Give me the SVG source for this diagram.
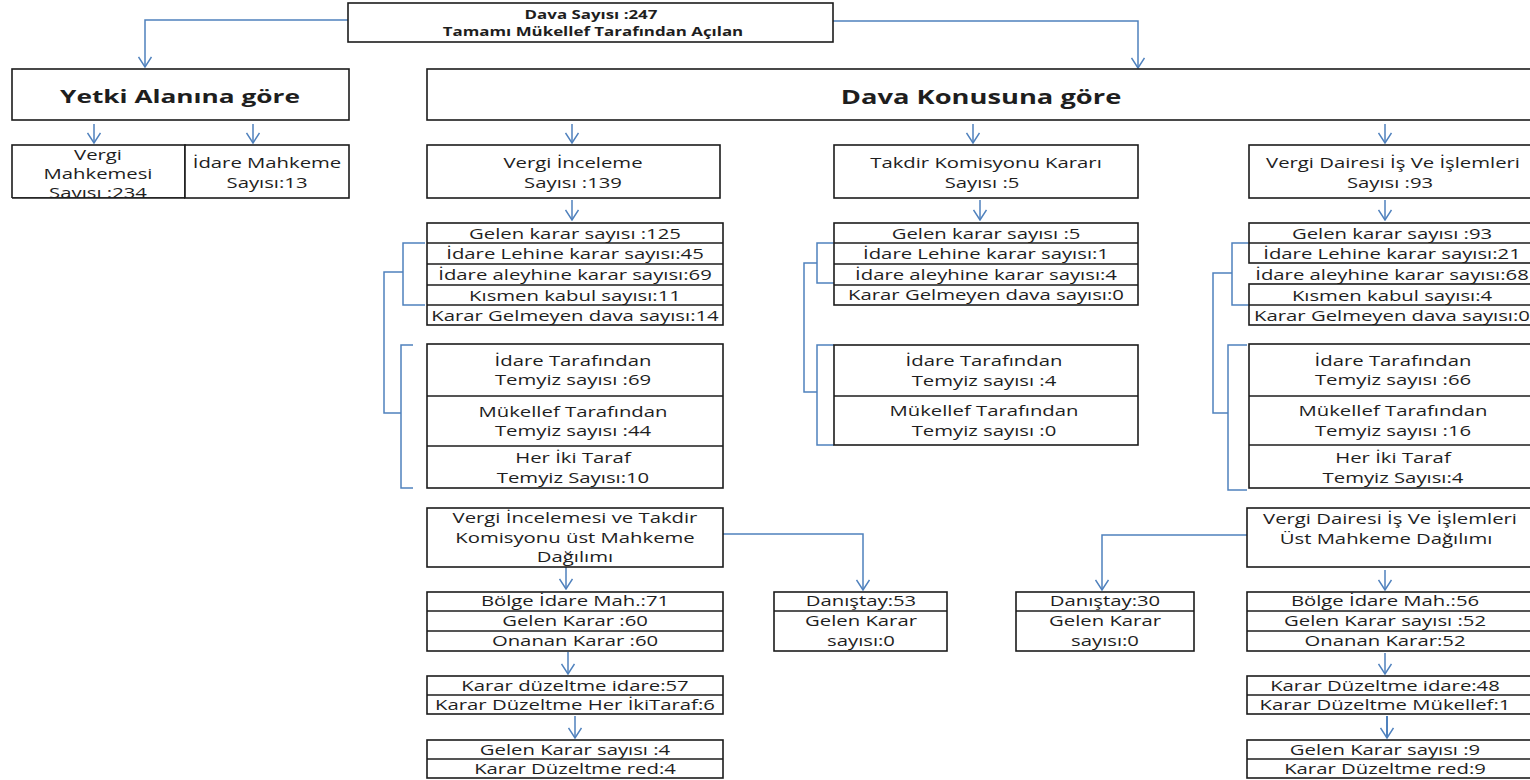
<svg xmlns="http://www.w3.org/2000/svg" width="1530" height="780" viewBox="0 0 1530 780">
<defs>
<marker id="arr" viewBox="0 0 12 14" refX="11" refY="7" markerWidth="12" markerHeight="14" markerUnits="userSpaceOnUse" orient="auto">
<path d="M1,0.5 L11,7 L1,13.5" fill="none" stroke="#4f81bd" stroke-width="1.5"/>
</marker>
</defs>
<style>
.b{fill:#fff;stroke:#1c1c1c;stroke-width:1.6}
.d{stroke:#1c1c1c;stroke-width:1.6;fill:none}
.c{fill:none;stroke:#4f81bd;stroke-width:1.5}
.a{fill:none;stroke:#4f81bd;stroke-width:1.5;marker-end:url(#arr)}
text{font-family:"Open Sans","Noto Sans","DejaVu Sans",sans-serif;fill:#1e1e1e;text-anchor:middle}
.t{font-size:14.5px}
.h1{font-size:17.5px;font-weight:bold}
.h2{font-size:19.5px;font-weight:bold}
.top{font-size:11.5px;font-weight:bold}
</style>
<rect width="1530" height="780" fill="#fff"/>

<g id="connectors">
<path class="a" d="M348,20 H145 V67"/>
<path class="a" d="M833,21 H1138 V68"/>
<path class="a" d="M94,124 V143"/>
<path class="a" d="M253,124 V143"/>
<path class="a" d="M572,124 V143"/>
<path class="a" d="M973,124 V143"/>
<path class="a" d="M1385,124 V143"/>
<path class="a" d="M572,200 V220"/>
<path class="a" d="M980,200 V220"/>
<path class="a" d="M1385,200 V220"/>
<path class="c" d="M425,243 H403 V305 H425"/>
<path class="c" d="M403,272 H384 V413 H401"/>
<path class="c" d="M413,345 H401 V488 H413"/>
<path class="c" d="M834,243 H817 V283 H834"/>
<path class="c" d="M817,263 H804 V392 H817"/>
<path class="c" d="M834,345 H817 V445 H834"/>
<path class="c" d="M1249,243 H1232 V305 H1249"/>
<path class="c" d="M1232,273 H1213 V413 H1228"/>
<path class="c" d="M1247,345 H1228 V490 H1247"/>
<path class="a" d="M566,567 V589"/>
<path class="a" d="M568,652 V674"/>
<path class="a" d="M575,716 V738"/>
<path class="a" d="M723,534 H863 V590"/>
<path class="a" d="M1247,535 H1102 V590"/>
<path class="a" d="M1385,570 V590"/>
<path class="a" d="M1385,653 V674"/>
<path class="a" d="M1387,716 V738" style="stroke-width:2"/>
</g>

<g id="n-top">
<rect class="b" x="348" y="3" width="485" height="39"/>
<text class="top" transform="translate(591,19) scale(1.47,1)">Dava Sayısı :247</text>
<text class="top" transform="translate(593,36) scale(1.47,1)">Tamamı Mükellef Tarafından Açılan</text>
</g>

<g id="n-yetki">
<rect class="b" x="12" y="69" width="337" height="51"/>
<text class="h1" transform="translate(180,103) scale(1.5,1)">Yetki Alanına göre</text>
</g>

<g id="n-konu">
<rect class="b" x="427" y="69" width="1110" height="51"/>
<text class="h2" transform="translate(981,104) scale(1.4,1)">Dava Konusuna göre</text>
</g>

<g id="n-vergimah">
<rect class="b" x="12" y="145" width="173" height="53"/>
<text class="t" transform="translate(98,160) scale(1.4,1)">Vergi</text>
<text class="t" transform="translate(98,179) scale(1.4,1)">Mahkemesi</text>
<text class="t" transform="translate(98,198) scale(1.4,1)">Sayısı :234</text>
<rect x="10" y="198" width="180" height="8" fill="#fff"/>
<line class="d" x1="12" y1="198" x2="185" y2="198"/>
</g>

<g id="n-idaremah">
<rect class="b" x="185" y="145" width="164" height="53"/>
<text class="t" transform="translate(267,168) scale(1.4,1)">İdare Mahkeme</text>
<text class="t" transform="translate(267,188) scale(1.4,1)">Sayısı:13</text>
</g>

<g id="n-inceleme">
<rect class="b" x="427" y="145" width="293" height="53"/>
<text class="t" transform="translate(573,168) scale(1.4,1)">Vergi İnceleme</text>
<text class="t" transform="translate(573,188) scale(1.4,1)">Sayısı :139</text>
</g>

<g id="n-takdir">
<rect class="b" x="834" y="145" width="304" height="53"/>
<text class="t" transform="translate(986,168) scale(1.4,1)">Takdir Komisyonu Kararı</text>
<text class="t" transform="translate(982,188) scale(1.4,1)">Sayısı :5</text>
</g>

<g id="n-daire">
<rect class="b" x="1249" y="145" width="290" height="53"/>
<text class="t" transform="translate(1393,168) scale(1.4,1)">Vergi Dairesi İş Ve İşlemleri</text>
<text class="t" transform="translate(1390,188) scale(1.4,1)">Sayısı :93</text>
</g>

<g id="n-inceleme-karar">
<rect class="b" x="427" y="223" width="296" height="102"/>
<line class="d" x1="427" y1="243" x2="723" y2="243"/>
<line class="d" x1="427" y1="264" x2="723" y2="264"/>
<line class="d" x1="427" y1="285" x2="723" y2="285"/>
<line class="d" x1="427" y1="305" x2="723" y2="305"/>
<text class="t" transform="translate(575,239) scale(1.4,1)">Gelen karar sayısı :125</text>
<text class="t" transform="translate(575,259) scale(1.4,1)">İdare Lehine karar sayısı:45</text>
<text class="t" transform="translate(575,280) scale(1.4,1)">İdare aleyhine karar sayısı:69</text>
<text class="t" transform="translate(575,301) scale(1.4,1)">Kısmen kabul sayısı:11</text>
<text class="t" transform="translate(575,321) scale(1.4,1)">Karar Gelmeyen dava sayısı:14</text>
</g>

<g id="n-inceleme-temyiz">
<rect class="b" x="427" y="344" width="296" height="144"/>
<line class="d" x1="427" y1="396" x2="723" y2="396"/>
<line class="d" x1="427" y1="446" x2="723" y2="446"/>
<text class="t" transform="translate(573,366) scale(1.4,1)">İdare Tarafından</text>
<text class="t" transform="translate(573,385) scale(1.4,1)">Temyiz sayısı :69</text>
<text class="t" transform="translate(573,417) scale(1.4,1)">Mükellef Tarafından</text>
<text class="t" transform="translate(573,436) scale(1.4,1)">Temyiz sayısı :44</text>
<text class="t" transform="translate(573,463) scale(1.4,1)">Her İki Taraf</text>
<text class="t" transform="translate(573,483) scale(1.4,1)">Temyiz Sayısı:10</text>
</g>

<g id="n-takdir-karar">
<rect class="b" x="834" y="223" width="304" height="82"/>
<line class="d" x1="834" y1="243" x2="1138" y2="243"/>
<line class="d" x1="834" y1="264" x2="1138" y2="264"/>
<line class="d" x1="834" y1="285" x2="1138" y2="285"/>
<text class="t" transform="translate(986,239) scale(1.4,1)">Gelen karar sayısı :5</text>
<text class="t" transform="translate(986,259) scale(1.4,1)">İdare Lehine karar sayısı:1</text>
<text class="t" transform="translate(986,280) scale(1.4,1)">İdare aleyhine karar sayısı:4</text>
<text class="t" transform="translate(986,300) scale(1.4,1)">Karar Gelmeyen dava sayısı:0</text>
</g>

<g id="n-takdir-temyiz">
<rect class="b" x="834" y="345" width="304" height="100"/>
<line class="d" x1="834" y1="396" x2="1138" y2="396"/>
<text class="t" transform="translate(984,366) scale(1.4,1)">İdare Tarafından</text>
<text class="t" transform="translate(984,386) scale(1.4,1)">Temyiz sayısı :4</text>
<text class="t" transform="translate(984,416) scale(1.4,1)">Mükellef Tarafından</text>
<text class="t" transform="translate(984,436) scale(1.4,1)">Temyiz sayısı :0</text>
</g>

<g id="n-daire-karar">
<rect class="b" x="1249" y="223" width="290" height="40"/>
<line class="d" x1="1249" y1="243" x2="1539" y2="243"/>
<rect class="b" x="1249" y="284" width="290" height="41"/>
<line class="d" x1="1249" y1="305" x2="1539" y2="305"/>
<text class="t" transform="translate(1392,239) scale(1.4,1)">Gelen karar sayısı :93</text>
<text class="t" transform="translate(1392,259) scale(1.4,1)">İdare Lehine karar sayısı:21</text>
<text class="t" transform="translate(1392,280) scale(1.4,1)">İdare aleyhine karar sayısı:68</text>
<text class="t" transform="translate(1392,301) scale(1.4,1)">Kısmen kabul sayısı:4</text>
<text class="t" transform="translate(1392,321) scale(1.4,1)">Karar Gelmeyen dava sayısı:0</text>
</g>

<g id="n-daire-temyiz">
<rect class="b" x="1249" y="344" width="290" height="144"/>
<line class="d" x1="1249" y1="396" x2="1539" y2="396"/>
<line class="d" x1="1249" y1="445" x2="1539" y2="445"/>
<text class="t" transform="translate(1393,366) scale(1.4,1)">İdare Tarafından</text>
<text class="t" transform="translate(1393,385) scale(1.4,1)">Temyiz sayısı :66</text>
<text class="t" transform="translate(1393,416) scale(1.4,1)">Mükellef Tarafından</text>
<text class="t" transform="translate(1393,436) scale(1.4,1)">Temyiz sayısı :16</text>
<text class="t" transform="translate(1393,463) scale(1.4,1)">Her İki Taraf</text>
<text class="t" transform="translate(1393,483) scale(1.4,1)">Temyiz Sayısı:4</text>
</g>

<g id="n-ust1">
<rect class="b" x="427" y="508" width="296" height="59"/>
<text class="t" transform="translate(575,523) scale(1.4,1)">Vergi İncelemesi ve Takdir</text>
<text class="t" transform="translate(575,543) scale(1.4,1)">Komisyonu üst Mahkeme</text>
<text class="t" transform="translate(575,562) scale(1.4,1)">Dağılımı</text>
</g>

<g id="n-bolge1">
<rect class="b" x="427" y="592" width="296" height="59"/>
<line class="d" x1="427" y1="611" x2="723" y2="611"/>
<line class="d" x1="427" y1="631" x2="723" y2="631"/>
<text class="t" transform="translate(575,606) scale(1.4,1)">Bölge İdare Mah.:71</text>
<text class="t" transform="translate(575,626) scale(1.4,1)">Gelen Karar :60</text>
<text class="t" transform="translate(575,646) scale(1.4,1)">Onanan Karar :60</text>
</g>

<g id="n-duz1">
<rect class="b" x="427" y="676" width="296" height="38"/>
<line class="d" x1="427" y1="695" x2="723" y2="695"/>
<text class="t" transform="translate(575,691) scale(1.4,1)">Karar düzeltme idare:57</text>
<text class="t" transform="translate(575,710) scale(1.4,1)">Karar Düzeltme Her İkiTaraf:6</text>
</g>

<g id="n-red1">
<rect class="b" x="427" y="740" width="296" height="38"/>
<line class="d" x1="427" y1="759" x2="723" y2="759"/>
<text class="t" transform="translate(575,755) scale(1.4,1)">Gelen Karar sayısı :4</text>
<text class="t" transform="translate(575,774) scale(1.4,1)">Karar Düzeltme red:4</text>
</g>

<g id="n-danistay1">
<rect class="b" x="774" y="592" width="173" height="59"/>
<line class="d" x1="774" y1="611" x2="947" y2="611"/>
<text class="t" transform="translate(861,606) scale(1.4,1)">Danıştay:53</text>
<text class="t" transform="translate(861,626) scale(1.4,1)">Gelen Karar</text>
<text class="t" transform="translate(861,646) scale(1.4,1)">sayısı:0</text>
</g>

<g id="n-danistay2">
<rect class="b" x="1016" y="592" width="178" height="59"/>
<line class="d" x1="1016" y1="611" x2="1194" y2="611"/>
<text class="t" transform="translate(1105,606) scale(1.4,1)">Danıştay:30</text>
<text class="t" transform="translate(1105,626) scale(1.4,1)">Gelen Karar</text>
<text class="t" transform="translate(1105,646) scale(1.4,1)">sayısı:0</text>
</g>

<g id="n-ust2">
<rect class="b" x="1247" y="508" width="292" height="59"/>
<text class="t" transform="translate(1390,524) scale(1.4,1)">Vergi Dairesi İş Ve İşlemleri</text>
<text class="t" transform="translate(1386,544) scale(1.4,1)">Üst Mahkeme Dağılımı</text>
</g>

<g id="n-bolge2">
<rect class="b" x="1247" y="592" width="292" height="59"/>
<line class="d" x1="1247" y1="611" x2="1539" y2="611"/>
<line class="d" x1="1247" y1="631" x2="1539" y2="631"/>
<text class="t" transform="translate(1385,606) scale(1.4,1)">Bölge İdare Mah.:56</text>
<text class="t" transform="translate(1385,626) scale(1.4,1)">Gelen Karar sayısı :52</text>
<text class="t" transform="translate(1385,646) scale(1.4,1)">Onanan Karar:52</text>
</g>

<g id="n-duz2">
<rect class="b" x="1247" y="676" width="292" height="38"/>
<line class="d" x1="1247" y1="695" x2="1539" y2="695"/>
<text class="t" transform="translate(1385,691) scale(1.4,1)">Karar Düzeltme idare:48</text>
<text class="t" transform="translate(1385,710) scale(1.4,1)">Karar Düzeltme Mükellef:1</text>
</g>

<g id="n-red2">
<rect class="b" x="1247" y="740" width="292" height="38"/>
<line class="d" x1="1247" y1="759" x2="1539" y2="759"/>
<text class="t" transform="translate(1385,755) scale(1.4,1)">Gelen Karar sayısı :9</text>
<text class="t" transform="translate(1385,774) scale(1.4,1)">Karar Düzeltme red:9</text>
</g>
</svg>
